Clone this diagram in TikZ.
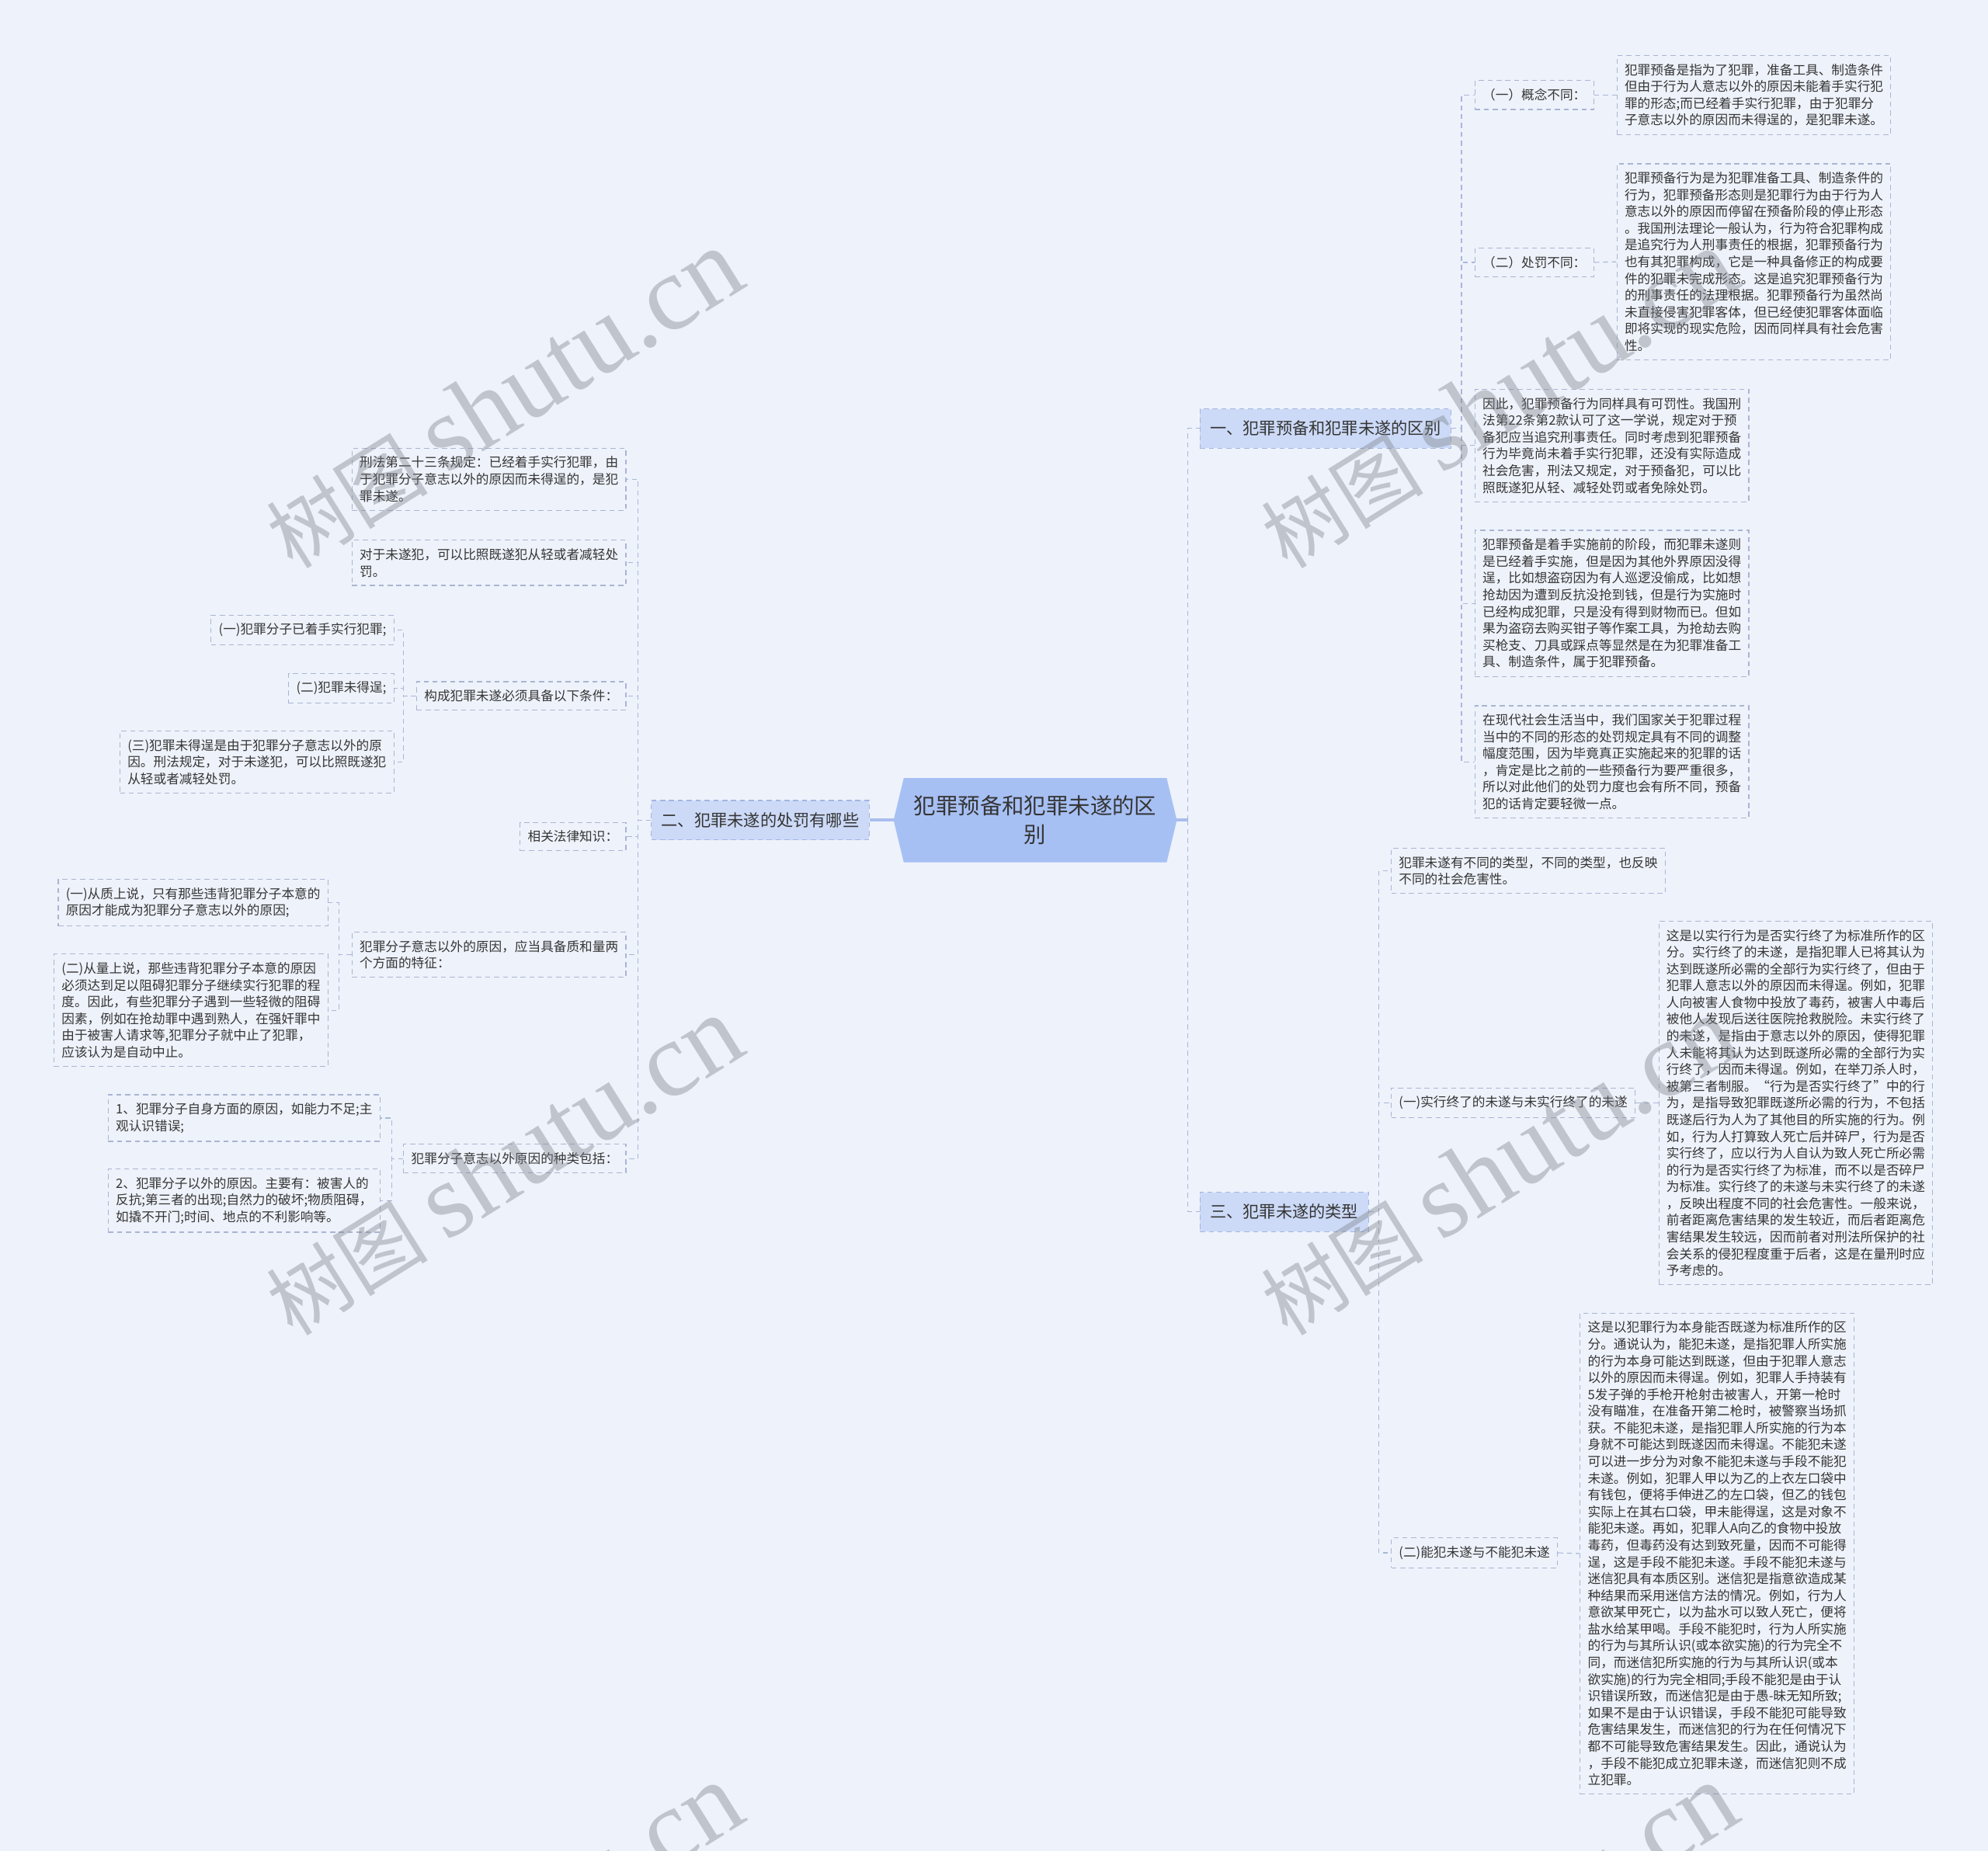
\documentclass[tikz,border=0pt]{standalone}
\usepackage{fontspec}
\setmainfont{Noto Sans CJK SC}
\newfontfamily\wmlatin{Liberation Serif}
\usepackage{tikz}
\usetikzlibrary{calc}
\definecolor{pagebg}{HTML}{EEF2FA}
\definecolor{rootfill}{HTML}{A7C0F4}
\definecolor{mainfill}{HTML}{CCDAF7}
\definecolor{mainedge}{HTML}{A3B6E3}
\definecolor{leafedge}{HTML}{A9B5D3}
\definecolor{linkcol}{HTML}{A9B7DA}
\definecolor{trunkcol}{HTML}{A9BEEE}
\definecolor{inkcol}{HTML}{353535}
\definecolor{wmcol}{HTML}{7C8088}
\pgfdeclarelayer{bg}
\pgfsetlayers{bg,main}

\begin{document}
\begin{tikzpicture}[x=1pt,y=-1pt,
    leaf/.style={draw=leafedge,dash pattern=on 4pt off 3pt,line width=0.7pt,text=inkcol,align=left,
      inner xsep=6pt,inner ysep=6.5pt,font=\fontsize{10.2}{13.22}\selectfont},
    branch/.style={draw=mainedge,fill=mainfill,dash pattern=on 4pt off 3pt,line width=0.7pt,text=inkcol,
      inner xsep=8pt,minimum height=31pt,font=\fontsize{13}{16}\selectfont},
    rootbox/.style={text=inkcol,align=center,minimum width=223pt,minimum height=66pt,
      font=\fontsize{17.4}{23}\selectfont},
    link/.style={draw=linkcol,dash pattern=on 4pt off 3pt,line width=0.7pt},
    trunk/.style={draw=trunkcol,line width=2.5pt},
    wm/.style={text=wmcol,text opacity=0.4,rotate=32,inner sep=0pt}]

    \useasboundingbox (0,0) rectangle (1568,1460);
    \begin{pgfonlayer}{bg}
      \fill[pagebg] (0,0) rectangle (1568,1460);
    \end{pgfonlayer}

    % centre
    \node[rootbox] (root) at (816.5,647) {犯罪预备和犯罪未遂的区\\别};
    \begin{pgfonlayer}{bg}
      \fill[rootfill] (root.west) -- ($(root.north west)+(8,0)$) -- ($(root.north east)+(-8,0)$)
        -- (root.east) -- ($(root.south east)+(-8,0)$) -- ($(root.south west)+(8,0)$) -- cycle;
    \end{pgfonlayer}

    \node[branch,anchor=west] (b1) at (946,338) {一、犯罪预备和犯罪未遂的区别};
    \node[branch,anchor=east] (b2) at (686,647) {二、犯罪未遂的处罚有哪些};
    \node[branch,anchor=west] (b3) at (946,956) {三、犯罪未遂的类型};

    % branch one
    \node[leaf,anchor=west] (r1) at (1163,75) {（一）概念不同：};
    \node[leaf,anchor=west] (r1t) at (1275,75) {犯罪预备是指为了犯罪，准备工具、制造条件\\%
      但由于行为人意志以外的原因未能着手实行犯\\%
      罪的形态;而已经着手实行犯罪，由于犯罪分\\%
      子意志以外的原因而未得逞的，是犯罪未遂。};
    \node[leaf,anchor=west] (r2) at (1163,207) {（二）处罚不同：};
    \node[leaf,anchor=west] (r2t) at (1275,206.5) {犯罪预备行为是为犯罪准备工具、制造条件的\\%
      行为，犯罪预备形态则是犯罪行为由于行为人\\%
      意志以外的原因而停留在预备阶段的停止形态\\%
      。我国刑法理论一般认为，行为符合犯罪构成\\%
      是追究行为人刑事责任的根据，犯罪预备行为\\%
      也有其犯罪构成，它是一种具备修正的构成要\\%
      件的犯罪未完成形态。这是追究犯罪预备行为\\%
      的刑事责任的法理根据。犯罪预备行为虽然尚\\%
      未直接侵害犯罪客体，但已经使犯罪客体面临\\%
      即将实现的现实危险，因而同样具有社会危害\\%
      性。};
    \node[leaf,anchor=west] (r3) at (1163,351.5) {因此，犯罪预备行为同样具有可罚性。我国刑\\%
      法第22条第2款认可了这一学说，规定对于预\\%
      备犯应当追究刑事责任。同时考虑到犯罪预备\\%
      行为毕竟尚未着手实行犯罪，还没有实际造成\\%
      社会危害，刑法又规定，对于预备犯，可以比\\%
      照既遂犯从轻、减轻处罚或者免除处罚。};
    \node[leaf,anchor=west] (r4) at (1163,476) {犯罪预备是着手实施前的阶段，而犯罪未遂则\\%
      是已经着手实施，但是因为其他外界原因没得\\%
      逞，比如想盗窃因为有人巡逻没偷成，比如想\\%
      抢劫因为遭到反抗没抢到钱，但是行为实施时\\%
      已经构成犯罪，只是没有得到财物而已。但如\\%
      果为盗窃去购买钳子等作案工具，为抢劫去购\\%
      买枪支、刀具或踩点等显然是在为犯罪准备工\\%
      具、制造条件，属于犯罪预备。};
    \node[leaf,anchor=west] (r5) at (1163,601) {在现代社会生活当中，我们国家关于犯罪过程\\%
      当中的不同的形态的处罚规定具有不同的调整\\%
      幅度范围，因为毕竟真正实施起来的犯罪的话\\%
      ，肯定是比之前的一些预备行为要严重很多，\\%
      所以对此他们的处罚力度也会有所不同，预备\\%
      犯的话肯定要轻微一点。};

    % branch three
    \node[leaf,anchor=west] (s1) at (1097,687) {犯罪未遂有不同的类型，不同的类型，也反映\\%
      不同的社会危害性。};
    \node[leaf,anchor=west] (s2) at (1097,870) {(一)实行终了的未遂与未实行终了的未遂};
    \node[leaf,anchor=west] (s2t) at (1308,870) {这是以实行行为是否实行终了为标准所作的区\\%
      分。实行终了的未遂，是指犯罪人已将其认为\\%
      达到既遂所必需的全部行为实行终了，但由于\\%
      犯罪人意志以外的原因而未得逞。例如，犯罪\\%
      人向被害人食物中投放了毒药，被害人中毒后\\%
      被他人发现后送往医院抢救脱险。未实行终了\\%
      的未遂，是指由于意志以外的原因，使得犯罪\\%
      人未能将其认为达到既遂所必需的全部行为实\\%
      行终了，因而未得逞。例如，在举刀杀人时，\\%
      被第三者制服。“行为是否实行终了”中的行\\%
      为，是指导致犯罪既遂所必需的行为，不包括\\%
      既遂后行为人为了其他目的所实施的行为。例\\%
      如，行为人打算致人死亡后并碎尸，行为是否\\%
      实行终了，应以行为人自认为致人死亡所必需\\%
      的行为是否实行终了为标准，而不以是否碎尸\\%
      为标准。实行终了的未遂与未实行终了的未遂\\%
      ，反映出程度不同的社会危害性。一般来说，\\%
      前者距离危害结果的发生较近，而后者距离危\\%
      害结果发生较远，因而前者对刑法所保护的社\\%
      会关系的侵犯程度重于后者，这是在量刑时应\\%
      予考虑的。};
    \node[leaf,anchor=west] (s3) at (1097,1225) {(二)能犯未遂与不能犯未遂};
    \node[leaf,anchor=west] (s3t) at (1246,1225.5) {这是以犯罪行为本身能否既遂为标准所作的区\\%
      分。通说认为，能犯未遂，是指犯罪人所实施\\%
      的行为本身可能达到既遂，但由于犯罪人意志\\%
      以外的原因而未得逞。例如，犯罪人手持装有\\%
      5发子弹的手枪开枪射击被害人，开第一枪时\\%
      没有瞄准，在准备开第二枪时，被警察当场抓\\%
      获。不能犯未遂，是指犯罪人所实施的行为本\\%
      身就不可能达到既遂因而未得逞。不能犯未遂\\%
      可以进一步分为对象不能犯未遂与手段不能犯\\%
      未遂。例如，犯罪人甲以为乙的上衣左口袋中\\%
      有钱包，便将手伸进乙的左口袋，但乙的钱包\\%
      实际上在其右口袋，甲未能得逞，这是对象不\\%
      能犯未遂。再如，犯罪人A向乙的食物中投放\\%
      毒药，但毒药没有达到致死量，因而不可能得\\%
      逞，这是手段不能犯未遂。手段不能犯未遂与\\%
      迷信犯具有本质区别。迷信犯是指意欲造成某\\%
      种结果而采用迷信方法的情况。例如，行为人\\%
      意欲某甲死亡，以为盐水可以致人死亡，便将\\%
      盐水给某甲喝。手段不能犯时，行为人所实施\\%
      的行为与其所认识(或本欲实施)的行为完全不\\%
      同，而迷信犯所实施的行为与其所认识(或本\\%
      欲实施)的行为完全相同;手段不能犯是由于认\\%
      识错误所致，而迷信犯是由于愚-昧无知所致;\\%
      如果不是由于认识错误，手段不能犯可能导致\\%
      危害结果发生，而迷信犯的行为在任何情况下\\%
      都不可能导致危害结果发生。因此，通说认为\\%
      ，手段不能犯成立犯罪未遂，而迷信犯则不成\\%
      立犯罪。};

    % branch two
    \node[leaf,anchor=east] (l1) at (494,378) {刑法第二十三条规定：已经着手实行犯罪，由\\%
      于犯罪分子意志以外的原因而未得逞的，是犯\\%
      罪未遂。};
    \node[leaf,anchor=east] (l2) at (494,444) {对于未遂犯，可以比照既遂犯从轻或者减轻处\\%
      罚。};
    \node[leaf,anchor=east] (l3) at (494,549) {构成犯罪未遂必须具备以下条件：};
    \node[leaf,anchor=east] (l3a) at (311,497) {(一)犯罪分子已着手实行犯罪;};
    \node[leaf,anchor=east] (l3b) at (311,543) {(二)犯罪未得逞;};
    \node[leaf,anchor=east] (l3c) at (311,601) {(三)犯罪未得逞是由于犯罪分子意志以外的原\\%
      因。刑法规定，对于未遂犯，可以比照既遂犯\\%
      从轻或者减轻处罚。};
    \node[leaf,anchor=east] (l4) at (494,660) {相关法律知识：};
    \node[leaf,anchor=east] (l5) at (494,753) {犯罪分子意志以外的原因，应当具备质和量两\\%
      个方面的特征：};
    \node[leaf,anchor=east] (l5a) at (259,712) {(一)从质上说，只有那些违背犯罪分子本意的\\%
      原因才能成为犯罪分子意志以外的原因;};
    \node[leaf,anchor=east] (l5b) at (259,797) {(二)从量上说，那些违背犯罪分子本意的原因\\%
      必须达到足以阻碍犯罪分子继续实行犯罪的程\\%
      度。因此，有些犯罪分子遇到一些轻微的阻碍\\%
      因素，例如在抢劫罪中遇到熟人，在强奸罪中\\%
      由于被害人请求等,犯罪分子就中止了犯罪，\\%
      应该认为是自动中止。};
    \node[leaf,anchor=east] (l6) at (494,914) {犯罪分子意志以外原因的种类包括：};
    \node[leaf,anchor=east] (l6a) at (300,882) {1、犯罪分子自身方面的原因，如能力不足;主\\%
      观认识错误;};
    \node[leaf,anchor=east] (l6b) at (300,947) {2、犯罪分子以外的原因。主要有：被害人的\\%
      反抗;第三者的出现;自然力的破坏;物质阻碍，\\%
      如撬不开门;时间、地点的不利影响等。};

    % connectors
    \coordinate (rhub) at (937,647);
    \draw[trunk] (root.east) -- (rhub);
    \draw[link] (rhub) |- (b1.west);
    \draw[link] (rhub) |- (b3.west);
    \draw[trunk] (root.west) -- (b2.east);

    \foreach \n in {r1,r2,r3,r4,r5}
      \draw[link] (b1.east) -- ++(8,0) |- (\n.west);
    \draw[link] (r1.east) -- (r1t.west);
    \draw[link] (r2.east) -- (r2t.west);

    \foreach \n in {s1,s2,s3}
      \draw[link] (b3.east) -- ++(8,0) |- (\n.west);
    \draw[link] (s2.east) -- (s2t.west);
    \draw[link] (s3.east) -- (s3t.west);

    \foreach \n in {l1,l2,l3,l4,l5,l6}
      \draw[link] (b2.west) -- ++(-10,0) |- (\n.east);
    \foreach \n in {l3a,l3b,l3c}
      \draw[link] (l3.west) -- ++(-10,0) |- (\n.east);
    \foreach \n in {l5a,l5b}
      \draw[link] (l5.west) -- ++(-10,0) |- (\n.east);
    \foreach \n in {l6a,l6b}
      \draw[link] (l6.west) -- ++(-9,0) |- (\n.east);

    % watermark
    \begin{scope}
      \clip (0,0) rectangle (1568,1460);
      \foreach \wx/\wy in {397/315,1182/315,397/920,1182/920,397/1525,1182/1525}
        \node[wm] at (\wx,\wy) {\fontsize{64}{64}\selectfont 树图 {\wmlatin\fontsize{84}{84}\selectfont shutu.cn}};
    \end{scope}
\end{tikzpicture}
\end{document}
